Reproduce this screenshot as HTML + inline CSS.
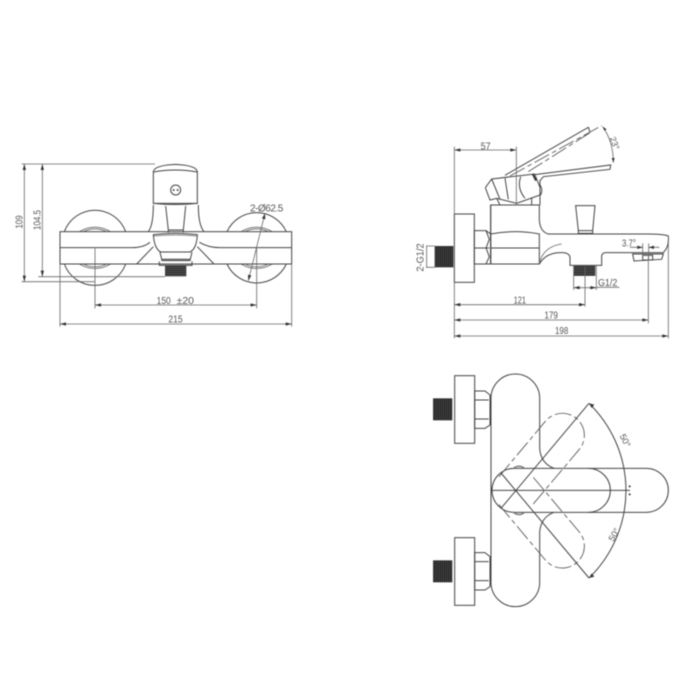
<!DOCTYPE html>
<html><head><meta charset="utf-8"><style>
html,body{margin:0;padding:0;background:#fff;width:700px;height:700px;overflow:hidden}
svg{display:block;filter:blur(.4px)}
text{font-family:"Liberation Sans",sans-serif;font-size:30px;fill:#555;stroke:none}
.s{fill:none;stroke:#444;stroke-width:3}
.t{fill:none;stroke:#666;stroke-width:2.4}
.d{fill:none;stroke:#555;stroke-width:2.6;stroke-dasharray:50 10 14 10}
.a{fill:#333;stroke:none}
</style></head><body>
<svg width="700" height="700" viewBox="0 0 700 700" xmlns="http://www.w3.org/2000/svg">
<defs>
<pattern id="h" width="6" height="6" patternUnits="userSpaceOnUse"><rect width="6" height="6" fill="#2c2c2c"/><rect y="4" width="6" height="2" fill="#666"/></pattern>
<pattern id="v" width="6" height="6" patternUnits="userSpaceOnUse"><rect width="6" height="6" fill="#222"/><rect x="4" width="2" height="6" fill="#555"/></pattern>
</defs>
<rect width="700" height="700" fill="#fff"/>

<!-- FRONT VIEW -->
<g transform="translate(0,150) scale(.33333)">
<g class="s">
<path d="M193 245A98 98 0 0 1 377 245M193 342A98 98 0 0 0 377 342"/>
<path d="M681 245A98 98 0 0 1 859 245M681 342A98 98 0 0 0 859 342"/>
<path class="t" d="M238 245Q285 218 332 245M250 245Q285 228 320 245M238 342Q285 369 332 342M250 342Q285 359 320 342"/>
<path class="t" d="M723 245Q770 218 817 245M735 245Q770 228 805 245M723 342Q770 369 817 342M735 342Q770 359 805 342"/>
<rect x="180" y="245" width="695" height="97" fill="#fff"/>
<path d="M180 293H395Q430 293 450 277M875 293H660Q625 293 598 277"/>
<path d="M460 65Q462 46 526 43Q590 46 592 65V160H460Z" fill="#fff"/>
<path d="M460 66Q526 54 592 66"/>
<path d="M460 160Q526 167 592 160"/>
<circle cx="527" cy="120" r="15"/>
<circle cx="521" cy="120" r="1.5"/><circle cx="533" cy="120" r="1.5"/>
<path d="M460 165Q460 225 445 245M595 165Q595 225 612 245"/>
<path d="M497 168L505 240H550L557 168M505 240V248M550 240V248"/>
<path d="M460 254Q525 246 592 254Q590 296 570 306H482Q463 296 460 254Z" fill="#fff"/>
<path class="t" d="M462 258Q525 252 590 258"/>
<path d="M410 342L460 290M642 342L592 290"/>
<path d="M480 306L486 332H570L576 306"/>
<path d="M478 334V346H576V334"/>
</g>
<rect x="486" y="326" width="84" height="6" fill="#666"/>
<rect x="495" y="346" width="64" height="33" fill="url(#h)"/>
<g class="t">
<path d="M65 42H465M65 395H285M115 380H495"/>
<path d="M73 42V395M127 42V380"/>
<path d="M285 295V475M770 295V475M180 342V530M875 342V530"/>
<path d="M285 465H770M180 522H875"/>
<path d="M795 190L745 392"/>
</g>
<g class="a">
<path d="M73 42L68 60H78ZM73 395L68 377H78ZM127 42L122 60H132ZM127 380L122 362H132Z"/>
<path d="M285 465L303 460V470ZM770 465L752 460V470ZM180 522L198 517V527ZM875 522L857 517V527Z"/>
<path d="M795 190L786 205L796 208ZM745 392L754 377L744 374Z"/>
</g>
<text x="470" y="462" textLength="42" lengthAdjust="spacingAndGlyphs">150</text>
<text x="530" y="462" textLength="52" lengthAdjust="spacingAndGlyphs">±20</text>
<text x="505" y="518" textLength="43" lengthAdjust="spacingAndGlyphs">215</text>
<text x="750" y="184" textLength="100" lengthAdjust="spacing">2-Ø62.5</text>
<text transform="translate(68,236) rotate(-90)" textLength="40" lengthAdjust="spacingAndGlyphs">109</text>
<text transform="translate(122,240) rotate(-90)" textLength="60" lengthAdjust="spacingAndGlyphs">104.5</text>
</g>

<!-- SIDE VIEW -->
<g transform="translate(400,110) scale(.33333)">
<g class="s">
<path d="M272 285H418V330Q420 365 445 372H740Q790 372 805 378Q808 410 790 428H615Q606 430 605 438V466H510V440Q505 428 488 428Q440 425 418 462H272Z"/>
<path d="M272 372Q345 358 418 372V462"/>
<path d="M272 414H418M272 285V462"/>
<path d="M418 460Q430 410 485 402" class="t"/>
<rect x="163" y="312" width="60" height="205"/>
<path d="M223 362H258L272 372V462L258 462H223ZM223 414H268M258 362L268 388L258 414L268 440L258 462"/>
<path d="M527 287H585L578 362H535Z"/>
<path d="M535 362V370H578V362"/>
<path d="M698 432H790L785 448L702 453Z"/>
<rect x="728" y="436" width="30" height="14"/>
<path d="M290 265L300 285M395 262V285"/>
<path d="M256 233L275 207L404 192L420 232"/>
<path d="M256 233L270 270L290 265L350 280L420 255"/>
<path d="M275 207L300 268M315 205L325 268M362 200Q350 235 375 265"/>
<path d="M404 194L632 165L630 178L430 200L420 212V285"/>
<path d="M420 225Q430 238 422 255"/>
<path d="M315 196L565 52L570 66"/>
</g>
<path class="d" d="M330 198L605 47M385 185L570 68"/>
<path d="M398 192L408 212" stroke="#222" stroke-width="5" fill="none"/>
<rect x="104" y="408" width="56" height="64" fill="url(#v)"/>
<rect x="522" y="468" width="64" height="30" fill="url(#h)"/>
<g class="t">
<path d="M163 312V110M349 110V285M163 120H349"/>
<path d="M521 468V540M589 468V540M521 533H589M589 532H658"/>
<path d="M105 408H78M105 472H78M80 408V472"/>
<path d="M163 517V685M555 470V590M745 440V640M805 378V685"/>
<path d="M163 584H555M163 630H745M163 678H805"/>
<path d="M608 50Q640 95 640 158"/>
<path d="M728 400V450M746 400V450M690 412H728M746 412H778"/>
</g>
<g class="a">
<path d="M163 120L181 115V125ZM349 120L331 115V125Z"/>
<path d="M521 533L539 528V538ZM589 533L571 528V538Z"/>
<path d="M163 584L181 579V589ZM555 584L537 579V589ZM163 630L181 625V635ZM745 630L727 625V635ZM163 678L181 673V683ZM805 678L787 673V683Z"/>
<path d="M728 412L712 407V417ZM746 412L762 407V417Z"/>
<path d="M608 50L613 62L620 58ZM640 158L635 144L644 144Z"/>
</g>
<text x="242" y="118" textLength="30" lengthAdjust="spacingAndGlyphs">57</text>
<text x="341" y="581" textLength="37" lengthAdjust="spacingAndGlyphs">121</text>
<text x="433" y="626" textLength="41" lengthAdjust="spacingAndGlyphs">179</text>
<text x="465" y="672" textLength="40" lengthAdjust="spacingAndGlyphs">198</text>
<text x="594" y="528" textLength="58" lengthAdjust="spacingAndGlyphs">G1/2</text>
<text x="666" y="409" textLength="42" lengthAdjust="spacingAndGlyphs">3.7°</text>
<text transform="translate(70,485) rotate(-90)" textLength="85" lengthAdjust="spacingAndGlyphs">2-G1/2</text>
<text transform="translate(629,84) rotate(70)" style="font-size:26px">23°</text>
</g>

<!-- TOP VIEW -->
<g transform="translate(410,360) scale(.33333)">
<g class="s">
<rect x="134" y="47" width="60" height="203"/>
<rect x="134" y="533" width="60" height="203"/>
<path d="M194 93H225L240 105V195L225 205H194ZM194 120H236M194 177H236"/>
<path d="M194 578H225L240 590V680L225 690H194ZM194 605H236M194 662H236"/>
<path d="M243 115A72 72 0 0 1 389 115V265Q392 310 432 325M243 667A72 72 0 0 0 389 667V517Q392 472 432 457"/>
<path d="M243 115V667"/>
<path d="M312 325H709A66 66 0 0 1 709 457H312A66 66 0 0 1 312 325Z"/>
<path d="M535 325A66 66 0 0 1 535 457"/>
<path d="M243 391H660"/>
<path d="M537 130L273 445M537 654L273 339"/>
<path d="M537 130A365 365 0 0 1 537 654"/>
</g>
<path class="d" d="M267 350L406 184A66 66 0 0 1 508 268L368 434"/>
<path class="d" d="M267 434L406 600A66 66 0 0 0 508 516L368 350"/>
<path d="M310 325Q325 313 342 323M310 457Q325 469 342 459" fill="none" stroke="#777" stroke-width="4"/>
<rect x="69" y="115" width="58" height="66" fill="url(#v)"/>
<rect x="69" y="601" width="58" height="66" fill="url(#v)"/>
<g class="a">
<circle cx="659" cy="379" r="3"/><circle cx="659" cy="403" r="3"/>
<path d="M537 130L553 134L545 144ZM537 654L553 650L545 640Z"/>
</g>
<text transform="translate(628,228) rotate(62)" style="font-size:27px">50°</text>
<text transform="translate(610,546) rotate(-60)" style="font-size:27px">50°</text>
</g>
</svg>
</body></html>
